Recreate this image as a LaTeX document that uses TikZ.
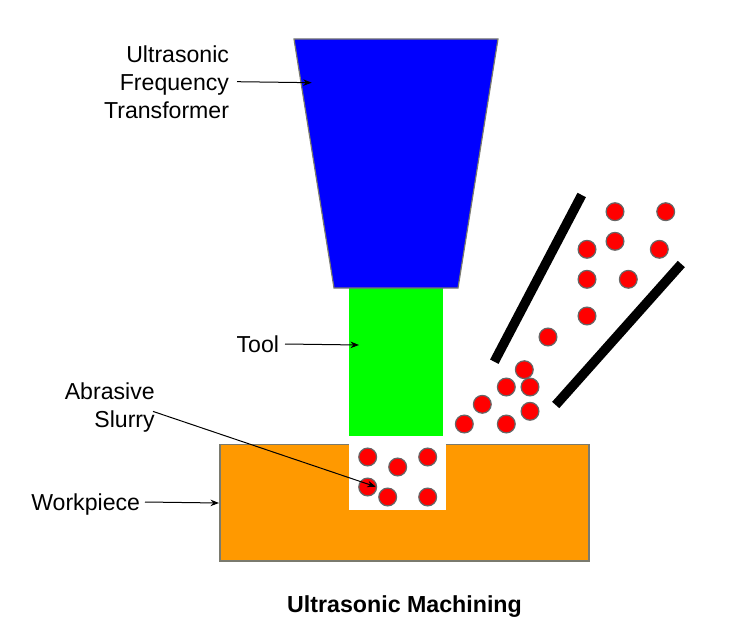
\documentclass[tikz,border=0pt]{standalone}
\usepackage{fontspec}
\setmainfont{Liberation Sans}
\usetikzlibrary{arrows.meta}
\definecolor{workorange}{HTML}{FF9900}
\definecolor{edgegray}{HTML}{7A7A6E}
\definecolor{ballgray}{HTML}{666666}
\tikzset{
  horn/.style={fill=blue,draw=edgegray,line width=1.2pt,line join=miter},
  toolbody/.style={fill=green},
  workbody/.style={fill=workorange,draw=edgegray,line width=1.5pt},
  cavity/.style={fill=white},
  grain/.style={circle,fill=red,draw=ballgray,line width=1.2pt,minimum size=17.8pt,inner sep=0pt,outer sep=0pt},
  nozzle/.style={draw=black,line width=9.5pt,line cap=butt},
  caption/.style={font=\fontsize{23.1}{28}\selectfont,align=right,anchor=east,inner sep=0pt,outer sep=0pt},
  pointer/.style={draw=black,line width=1pt,-{Stealth[length=8.5pt,width=6.5pt]}},
}
\begin{document}
\begin{tikzpicture}[x=1pt,y=-1pt]
\useasboundingbox (0,0) rectangle (749,628);

% Workpiece with its machined cavity
\draw[workbody] (220,444.7) rectangle (589,561);
\fill[cavity] (349,436) rectangle (446.3,509.7);

% Tool and the horn above it
\fill[toolbody] (348.5,288) rectangle (443.3,435.7);
\draw[horn] (294,39) -- (498,39) -- (458,288) -- (334,288) -- cycle;

% Slurry feed nozzle
\coordinate (nozzleAtop) at (581.7,195);
\coordinate (nozzleAbot) at (494.3,361.7);
\coordinate (nozzleBtop) at (681.3,264);
\coordinate (nozzleBbot) at (555.7,405);
\draw[nozzle] (nozzleAtop) -- (nozzleAbot);
\draw[nozzle] (nozzleBtop) -- (nozzleBbot);

% Abrasive grains in the nozzle stream
\foreach \gx/\gy [count=\n] in {
  615/211.7, 665.7/211.7, 587/249.3, 615/241.3, 659.3/249.3,
  587/279.3, 628.3/279.3, 587/316, 548/337, 524.3/369.7,
  506.3/387, 530/387, 482.3/404.3, 530/411.3, 464.3/424, 506.3/424}
  \node[grain] (feed\n) at (\gx,\gy) {};

% Abrasive grains in the cavity
\foreach \gx/\gy [count=\n] in {
  367.7/457, 397.7/467, 427.7/457, 367.7/487, 387.7/497, 427.7/497}
  \node[grain] (gap\n) at (\gx,\gy) {};

% Labels
\node[caption] (lblhorn) at (229,82) {Ultrasonic\\Frequency\\Transformer};
\node[caption] (lbltool) at (279,344.5) {Tool};
\node[caption] (lblslurry) at (154.7,407.5) {Abrasive\\Slurry};
\node[caption] (lblwork) at (140,504.5) {Workpiece};
\node[font=\fontsize{23.2}{26}\selectfont\bfseries,inner sep=0pt] (title) at (404.5,606.5) {Ultrasonic Machining};

% Pointers from labels to parts
\coordinate (hornpt) at (311.7,82.7);
\coordinate (toolpt) at (359,345);
\coordinate (slurrypt) at (375.7,486.7);
\coordinate (workpt) at (219,503);
\draw[pointer] ([xshift=8pt,yshift=0.3pt]lblhorn.east) -- (hornpt);
\draw[pointer] ([xshift=6pt,yshift=0.5pt]lbltool.east) -- (toolpt);
\draw[pointer] ([xshift=-1.7pt,yshift=-3.9pt]lblslurry.east) -- (slurrypt);
\draw[pointer] ([xshift=5pt,yshift=2.5pt]lblwork.east) -- (workpt);
\end{tikzpicture}
\end{document}
